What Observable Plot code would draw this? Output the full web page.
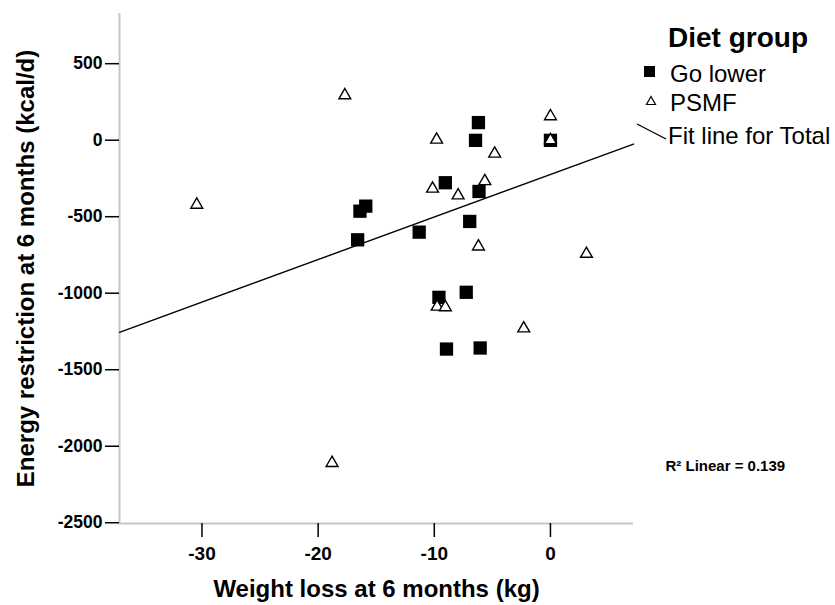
<!DOCTYPE html>
<html><head><meta charset="utf-8">
<script src="https://cdn.jsdelivr.net/npm/d3@7"></script>
<script src="https://cdn.jsdelivr.net/npm/@observablehq/plot@0.6"></script>
<style>
body{margin:0;background:#fff;}
#chart{width:835px;height:605px;}
</style></head><body><div id="chart"></div>
<script>
// Go lower (filled squares)
const goLowerX = [-16.4, -15.9, -16.6, -11.3, -9.05, -6.2, -6.45, 0, -6.15, -6.95, -9.6, -7.25, -8.95, -6.05];
const goLowerY = [-464, -431, -651, -601, -278, 115, -1, -1, -335, -531, -1027, -994, -1365, -1358];
// PSMF (open triangles)
const psmfX = [-30.45, -17.7, -9.8, -10.15, -7.95, 0, 0, -4.8, -5.65, -6.2, 3.1, -9.75, -9.05, -2.3, -18.8];
const psmfY = [-422, 293, 3, -317, -361, 156, 0, -88, -268, -695, -743, -1088, -1092, -1230, -2110];
const groups = ["Go lower", "PSMF"];
const xTicks = [-30, -20, -10, 0];
const yTicks = [500, 0, -500, -1000, -1500, -2000, -2500];
const fitIntercept = -224;
const fitSlope = 27.8;
const r2Text = "R\u00B2 Linear = 0.139";
const xTitle = "Weight loss at 6 months (kg)";
const yTitle = "Energy restriction at 6 months (kcal/d)";
const legendTitle = "Diet group";
const fitLabel = "Fit line for Total";

const xDomain = [-37.1, 7.15];
const yDomain = [-2505, 828];

const goLower = goLowerX.map((x, i) => ({x, y: goLowerY[i], group: groups[0]}));
const psmf = psmfX.map((x, i) => ({x, y: psmfY[i], group: groups[1]}));
const fit = xDomain.map(x => ({x, y: fitIntercept + fitSlope * x}));

const font = "'Liberation Sans', Arial, sans-serif";

const svg = Plot.plot({
  width: 835, height: 605,
  marginLeft: 119, marginTop: 13, marginRight: 202, marginBottom: 82,
  style: {fontFamily: font, background: "white", overflow: "visible", color: "black"},
  x: {domain: xDomain},
  y: {domain: yDomain},
  marks: [
    Plot.ruleX([xDomain[0]], {stroke: "#c6c6c6", strokeWidth: 2}),
    Plot.ruleY([yDomain[0]], {stroke: "#c6c6c6", strokeWidth: 2}),
    Plot.axisX(xTicks, {tickSize: 14, tickPadding: 9, tickFormat: d => String(d), fontSize: 19, fontWeight: "bold", strokeWidth: 1.5, label: null}),
    Plot.axisY(yTicks, {tickSize: 14, tickPadding: 3, tickFormat: d => String(d), fontSize: 17.5, fontWeight: "bold", strokeWidth: 1.5, label: null}),
    Plot.text([xTitle], {frameAnchor: "bottom", dy: 73, textAnchor: "middle", fontSize: 24, fontWeight: "bold"}),
    Plot.text([yTitle], {frameAnchor: "left", dx: -93, textAnchor: "middle", rotate: -90, fontSize: 24, fontWeight: "bold"}),
    Plot.line(fit, {x: "x", y: "y", stroke: "black", strokeWidth: 1.4}),
    Plot.dot(goLower, {x: "x", y: "y", symbol: "square", r: 7.5, fill: "black", stroke: "none"}),
    Plot.dot(psmf, {x: "x", y: "y", symbol: "triangle", r: 4.4, fill: "white", stroke: "black", strokeWidth: 1.4}),
    Plot.text([r2Text], {frameAnchor: "bottom-right", dx: 32, dy: -53, textAnchor: "start", fontSize: 15, fontWeight: "bold"})
  ]
});

// Legend
const g = d3.select(svg).append("g").attr("font-family", font).attr("fill", "black").attr("text-anchor", "start");
g.append("text").attr("x", 668).attr("y", 47).attr("font-size", 28).attr("font-weight", "bold").attr("text-anchor", "start").text(legendTitle);
g.append("rect").attr("x", 644).attr("y", 66).attr("width", 11).attr("height", 11).attr("fill", "black");
g.append("text").attr("x", 670).attr("y", 82).attr("font-size", 24).attr("text-anchor", "start").text(groups[0]);
g.append("path").attr("d", "M651,96.5L646.5,104.5L655.5,104.5Z").attr("fill", "white").attr("stroke", "black").attr("stroke-width", 1.2);
g.append("text").attr("x", 670).attr("y", 111).attr("font-size", 24).attr("text-anchor", "start").text(groups[1]);
g.append("line").attr("x1", 637).attr("y1", 124).attr("x2", 666).attr("y2", 139).attr("stroke", "black").attr("stroke-width", 1.4);
g.append("text").attr("x", 668).attr("y", 144).attr("font-size", 24).attr("text-anchor", "start").text(fitLabel);

document.getElementById("chart").appendChild(svg);
</script></body></html>
